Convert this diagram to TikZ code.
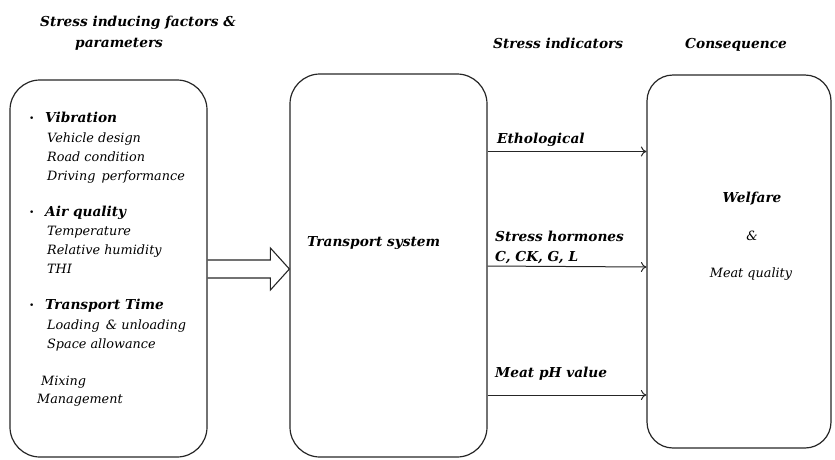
\documentclass[tikz,border=0pt]{standalone}
\usepackage{fontspec}
\setmainfont{DejaVu Serif}
\usetikzlibrary{calc,arrows.meta}
\begin{document}
\begin{tikzpicture}[x=1pt,y=-1pt,
  box/.style={draw=black!85,line width=1.2pt,rounded corners=30pt,inner sep=0pt},
  head/.style={anchor=base west,inner sep=0pt,font=\fontsize{13.7}{16}\selectfont\bfseries\itshape},
  sub/.style={anchor=base west,inner sep=0pt,font=\fontsize{12.8}{15}\selectfont\itshape},
  bul/.style={anchor=base west,inner sep=0pt,font=\fontsize{9}{10}\selectfont},
  conn/.style={draw=black!85,line width=1pt,-{To[length=5.5pt,width=10pt]}}]
\useasboundingbox (0,0) rectangle (835,459);
% boxes
\node[box,minimum width=197pt,minimum height=377pt] (left) at (108.5,268.5) {};
\node[box,minimum width=197pt,minimum height=383pt] (mid) at (388.5,265.5) {};
\node[box,minimum width=184pt,minimum height=373pt,rounded corners=26pt] (right) at (739,261.5) {};
% headings
\node[head] (h1a) at (40,26) {Stress inducing factors \&};
\node[head] (h1b) at (75,47) {parameters};
\node[head] (h2) at (493,48) {Stress indicators};
\node[head] (h3) at (685,48) {Consequence};
% left box content
\node[bul] (b1) at (29,121) {•};
\node[head] (vib) at (45,122) {Vibration};
\node[sub] (s11) at (47,142) {Vehicle design};
\node[sub] (s12) at (47,161) {Road condition};
\node[sub] (s13) at (47,180) {Driving\, performance};
\node[bul] (b2) at (29,215) {•};
\node[head] (air) at (45,216) {Air quality};
\node[sub] (s21) at (47,235) {Temperature};
\node[sub] (s22) at (47,254) {Relative humidity};
\node[sub] (s23) at (47,273) {THI};
\node[bul] (b3) at (29,308) {•};
\node[head] (tt) at (45,309) {Transport Time};
\node[sub] (s31) at (47,329) {Loading\, \& unloading};
\node[sub] (s32) at (47,348) {Space allowance};
\node[sub] (s41) at (41,385) {Mixing};
\node[sub] (s42) at (37,403) {Management};
% middle
\node[head] (ts) at (307,246) {Transport system};
% arrow labels
\node[head] (l1) at (497,143) {Ethological};
\node[head] (l2a) at (495,241) {Stress hormones};
\node[head] (l2b) at (495,261) {C, CK, G, L};
\node[head] (l3) at (495,377) {Meat pH value};
% right box text
\node[anchor=base,inner sep=0pt,font=\fontsize{13.7}{16}\selectfont\bfseries\itshape] (w1) at (752,202) {Welfare};
\node[anchor=base,inner sep=0pt,font=\fontsize{12.8}{15}\selectfont\itshape] (w2) at (752,240) {\&};
\node[anchor=base,inner sep=0pt,font=\fontsize{12.8}{15}\selectfont\itshape] (w3) at (751,277) {Meat quality};
% connectors
\draw[conn] ([yshift=114pt]mid.east) -- ([yshift=114pt]mid.east -| right.west);
\draw[conn] ([yshift=-0.5pt]mid.east) -- ([yshift=-1.5pt]mid.east -| right.west);
\draw[conn] ([yshift=-129.5pt]mid.east) -- ([yshift=-129.5pt]mid.east -| right.west);
% big hollow arrow
\draw[draw=black!85,line width=1.1pt,line join=miter]
  ([yshift=9pt]left.east |- 0,269) -- ($([yshift=9pt]mid.west |- 0,269)+(-19,0)$)
  -- ($([yshift=21pt]mid.west |- 0,269)+(-19,0)$) -- (mid.west |- 0,269)
  -- ($([yshift=-21pt]mid.west |- 0,269)+(-19,0)$)
  -- ($([yshift=-9pt]mid.west |- 0,269)+(-19,0)$) -- ([yshift=-9pt]left.east |- 0,269);
\end{tikzpicture}
\end{document}
